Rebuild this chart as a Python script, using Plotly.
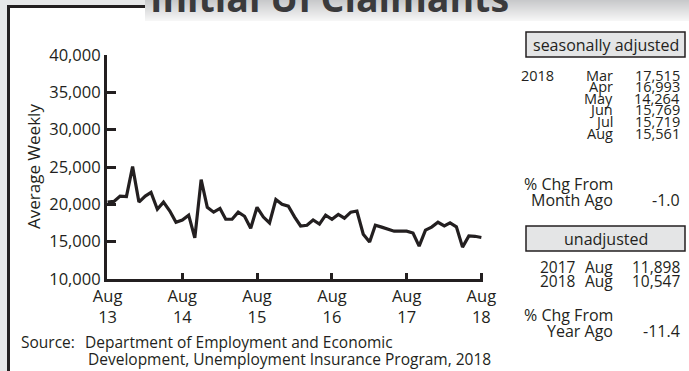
import pandas as pd
import plotly.graph_objects as go

# ---- data -------------------------------------------------------------
# Monthly average weekly initial UI claims, Aug 2013 - Aug 2018 (seasonally adjusted)
months = pd.date_range("2013-08-01", "2018-08-01", freq="MS")
claims = [20300, 20400, 21100, 21050, 25050, 20300, 21100, 21600, 19350, 20300,
          19100, 17600, 17900, 18550, 15500, 23300, 19600, 18950, 19450, 18000,
          18000, 18950, 18400, 16800, 19600, 18300, 17500, 20650, 20000, 19750,
          18300, 17100, 17200, 17900, 17350, 18550, 18000, 18650, 18150, 18950,
          19100, 16000, 14950, 17200, 16950, 16650, 16400, 16400, 16400, 16150,
          14400, 16550, 16950, 17600, 17100, 17515, 16993, 14264, 15769, 15719,
          15561]

x_tick_dates = ["2013-08-01", "2014-08-01", "2015-08-01", "2016-08-01", "2017-08-01", "2018-08-01"]
x_tick_labels = ["Aug<br>13", "Aug<br>14", "Aug<br>15", "Aug<br>16", "Aug<br>17", "Aug<br>18"]
y_tick_values = [10000, 15000, 20000, 25000, 30000, 35000, 40000]
y_tick_labels = ["10,000", "15,000", "20,000", "25,000", "30,000", "35,000", "40,000"]

sa_year = "2018"
sa_months = ["Mar", "Apr", "May", "Jun", "Jul", "Aug"]
sa_values = ["17,515", "16,993", "14,264", "15,769", "15,719", "15,561"]
sa_change = "-1.0"

un_years = ["2017", "2018"]
un_months = ["Aug", "Aug"]
un_values = ["11,898", "10,547"]
un_change = "-11.4"

# ---- geometry ---------------------------------------------------------
W, H = 689, 371
ML, MT, PW, PH = 107, 55, 376, 224
MR, MB = W - ML - PW, H - MT - PH

INK = "#231f20"
FONT = "Open Sans"
FS = 16
FS_ROW = 14.5


def fx(px):
    return (px - ML) / PW


def fy(py):
    return (MT + PH - py) / PH


fig = go.Figure(
    go.Scatter(x=months, y=claims, mode="lines",
               line=dict(color=INK, width=3.2), hoverinfo="skip")
)

shapes = []
# white panel with dark frame
shapes.append(dict(type="rect", xref="paper", yref="paper", layer="below",
                   x0=fx(8.5), x1=fx(800), y0=fy(6.5), y1=fy(500),
                   fillcolor="white", line=dict(color=INK, width=3)))
# shaded title banner (vertical gradient built from thin strips)
top_c, bot_c = (200, 201, 203), (246, 246, 246)
n_strips = 21
for k in range(n_strips):
    t = k / (n_strips - 1)
    c = tuple(round(top_c[i] + (bot_c[i] - top_c[i]) * t) for i in range(3))
    shapes.append(dict(type="rect", xref="paper", yref="paper", layer="below",
                       x0=fx(145), x1=fx(720), y0=fy(k), y1=fy(k + 1.05),
                       fillcolor="rgb(%d,%d,%d)" % c, line=dict(width=0)))
# header boxes of the side table
for y0, y1 in [(32, 57), (226, 251)]:
    shapes.append(dict(type="rect", xref="paper", yref="paper", layer="above",
                       x0=fx(526), x1=fx(685), y0=fy(y0), y1=fy(y1),
                       fillcolor="#e4e5e6", line=dict(color=INK, width=1.5)))

ann = []


def text(s, x, y, anchor="left", size=FS, **kw):
    ann.append(dict(text=s, x=fx(x), y=fy(y), xref="paper", yref="paper",
                    xanchor=anchor, yanchor="middle", showarrow=False,
                    font=dict(family=FONT, size=size, color=INK), **kw))


# title
ann.append(dict(text="<b>Initial UI Claimants</b>", x=fx(148), y=fy(25),
                xref="paper", yref="paper", xanchor="left", yanchor="bottom",
                showarrow=False, font=dict(family=FONT, size=37.5, color="#3a3a3c")))

# y axis title
text("Average Weekly", 33, 167, anchor="center", size=17, textangle=-90)

# seasonally adjusted block
text("seasonally adjusted", 605.5, 44.5, anchor="center")
text(sa_year, 519, 75.5, size=FS_ROW)
row_step = 11.6
for i, (m, v) in enumerate(zip(sa_months, sa_values)):
    yy = 75 + i * row_step
    text(m, 615, yy, anchor="right", size=FS_ROW)
    text(v, 682, yy, anchor="right", size=FS_ROW)
text("% Chg From", 615, 184, anchor="right")
text("Month Ago", 615, 200, anchor="right")
text(sa_change, 682, 200, anchor="right")

# unadjusted block
text("unadjusted", 605.5, 238.5, anchor="center")
for i, (yr, m, v) in enumerate(zip(un_years, un_months, un_values)):
    yy = 267 + i * 14
    text(yr, 538, yy, size=15.5)
    text(m, 615, yy, anchor="right", size=15.5)
    text(v, 682, yy, anchor="right", size=15.5)
text("% Chg From", 615, 315, anchor="right")
text("Year Ago", 615, 331, anchor="right")
text(un_change, 682, 331, anchor="right")

# source note
text("Source:", 19, 342, size=15.5)
text("Department of Employment and Economic", 83, 342, size=15.5)
text("Development, Unemployment Insurance Program, 2018", 86, 359, size=15.5)

axis_common = dict(showline=True, linewidth=3, linecolor=INK, ticks="inside",
                   tickwidth=2.5, tickcolor=INK, showgrid=False, zeroline=False,
                   tickfont=dict(family=FONT, size=16.5, color=INK), fixedrange=True)

fig.update_layout(
    width=W, height=H,
    margin=dict(l=ML, r=MR, t=MT, b=MB, pad=0),
    paper_bgcolor="#e6e7e8",
    plot_bgcolor="rgba(0,0,0,0)",
    showlegend=False,
    shapes=shapes,
    annotations=ann,
    xaxis=dict(type="date", range=["2013-07-29", "2018-08-09"],
               tickvals=x_tick_dates, ticktext=x_tick_labels, ticklen=6,
               **axis_common),
    yaxis=dict(range=[10000, 40000], tickvals=y_tick_values,
               ticktext=y_tick_labels, ticklen=9, **axis_common),
)

fig.write_html("out.html")
